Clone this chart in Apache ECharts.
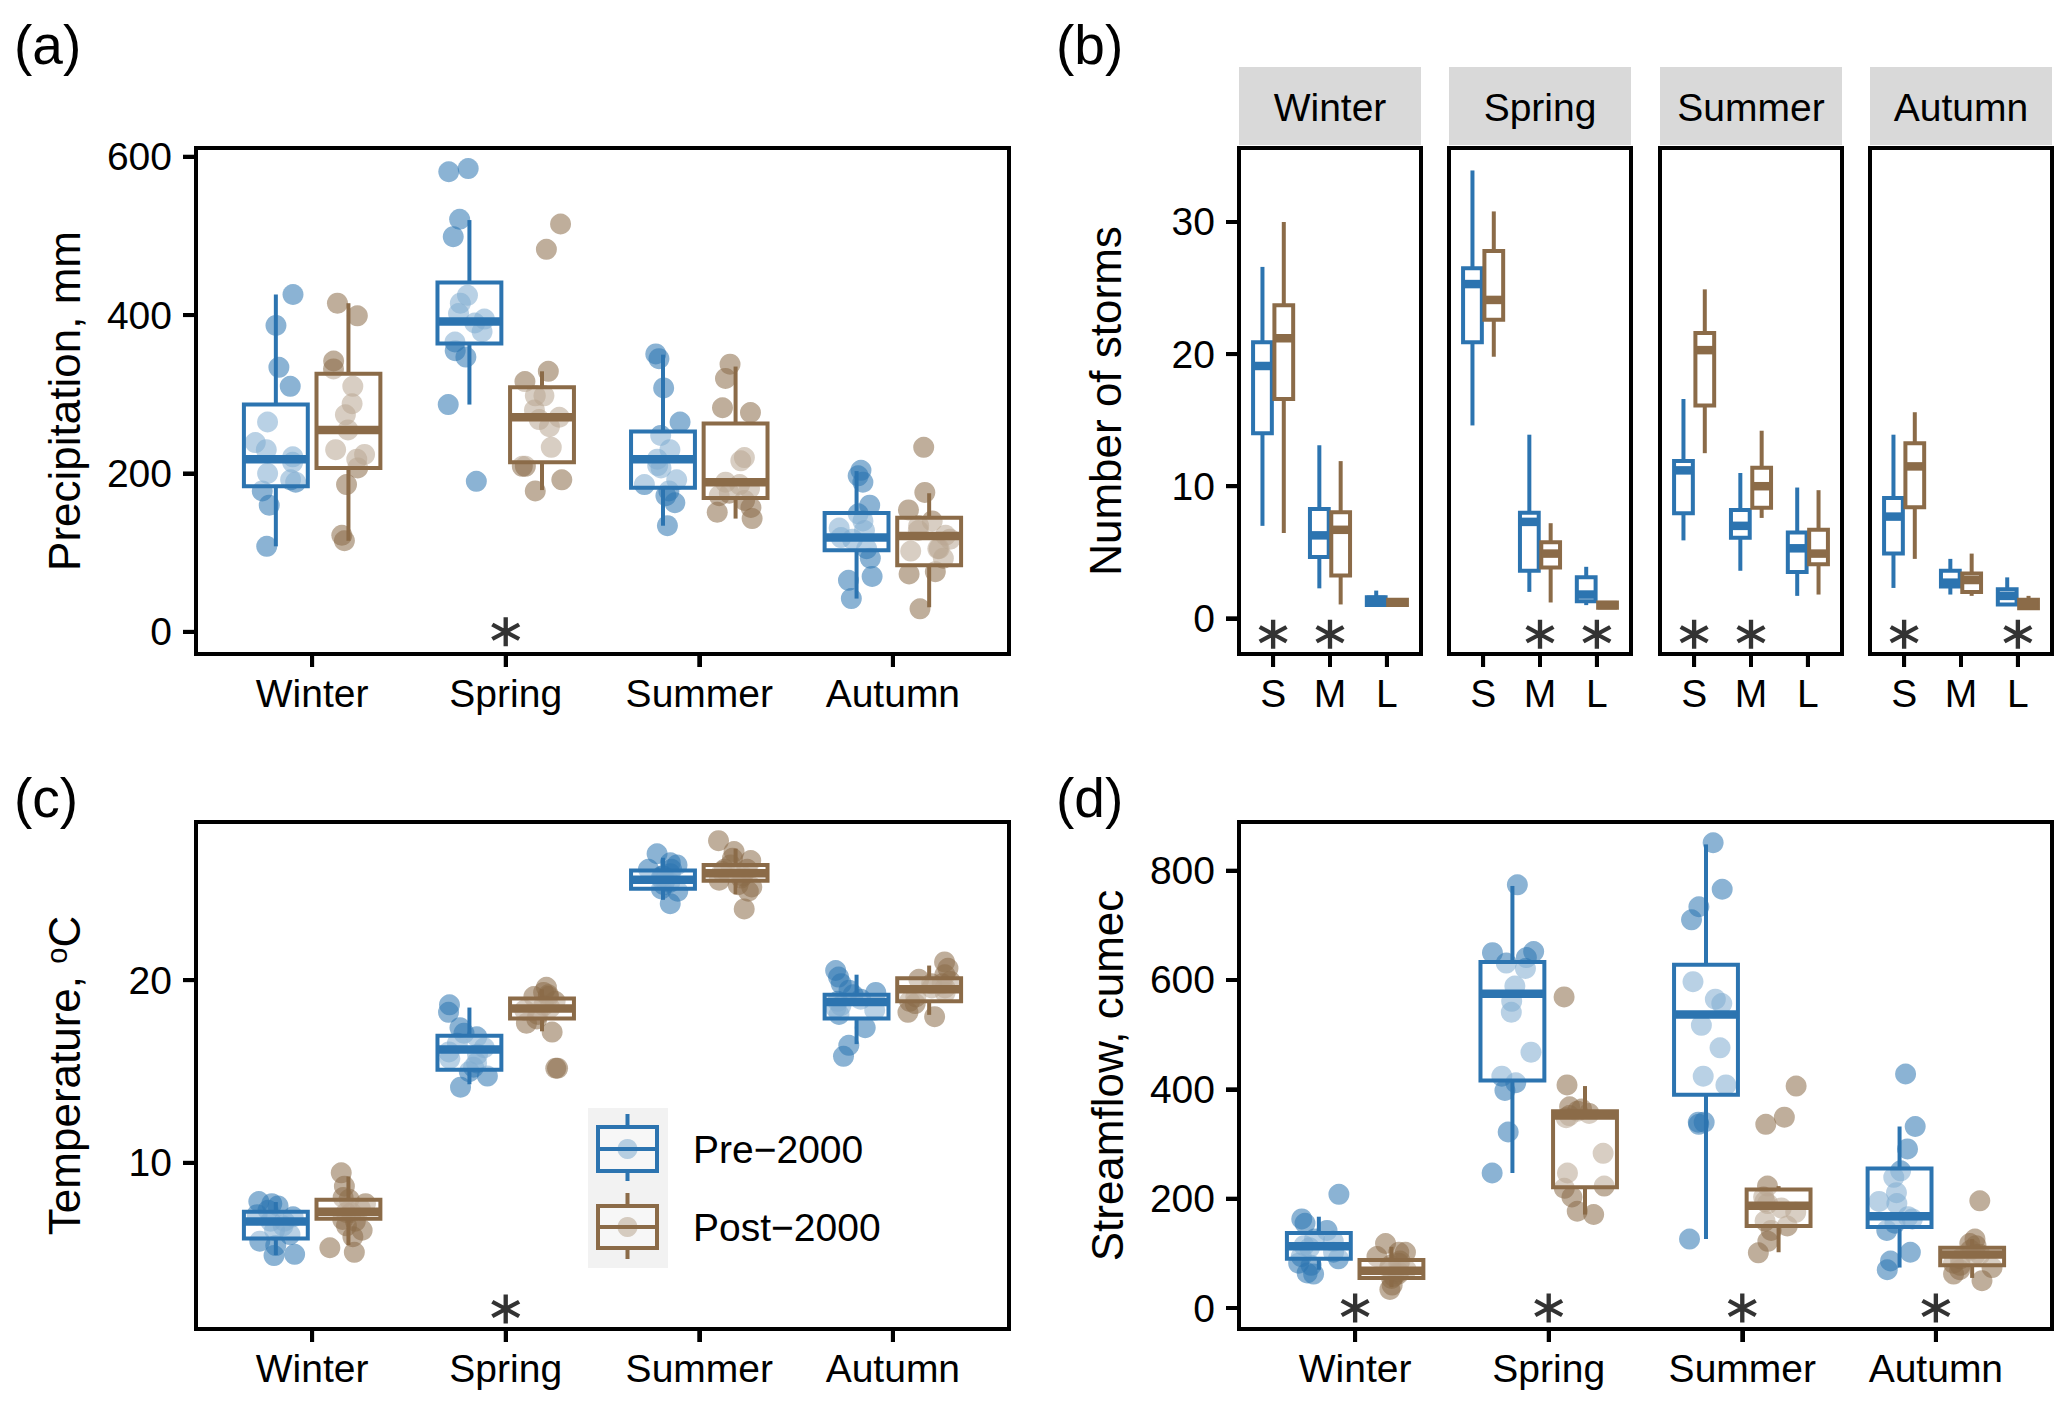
<!DOCTYPE html>
<html><head><meta charset="utf-8">
<script src="https://cdn.jsdelivr.net/npm/echarts@6/dist/echarts.min.js"></script>
<style>html,body{margin:0;padding:0;background:#fff}#c{width:2067px;height:1406px}</style>
</head><body><div id="c"></div>
<script>
// ---------------- DATA ----------------
const SEASONS = ['Winter', 'Spring', 'Summer', 'Autumn'];
const STORM_SIZES = ['S', 'M', 'L'];
const PERIODS = ['Pre−2000', 'Post−2000'];

// Box statistics: [lower whisker, Q1, median, Q3, upper whisker]
const precipBoxPre  = [[108,184,218,287,426],[287,364,392,441,520],[134,182,218,253,350],[42,103,119,150,203]];
const precipBoxPost = [[115,207,255,326,415],[179,214,271,309,329],[143,169,189,263,335],[31,84,121,144,175]];
const precipPtsPre = [
  [426,387,334,310,265,239,230,221,214,192,189,178,160,108,200],
  [585,581,521,499,425,415,402,390,379,366,355,347,287,190,395],
  [351,345,308,265,248,230,207,192,186,178,172,163,134,210,218],
  [204,197,189,160,149,131,117,128,105,93,70,65,42,119,140]
];
const precipPtsPost = [
  [415,399,342,332,310,288,274,230,224,218,207,186,122,115,255],
  [515,483,329,316,298,298,280,271,259,233,209,209,192,178,268],
  [338,320,283,277,216,220,189,181,175,172,157,151,143,186,166],
  [233,176,154,134,140,122,105,105,93,73,76,29,117,128,102]
];
const precipSig = [0, 1, 0, 0];
const precipTicks = [0, 200, 400, 600];

const stormBoxPre = {
  Winter: [[7.0,14.0,19.1,20.9,26.6],[2.27,4.64,6.28,8.27,13.1],[0.9,1.0,1.4,1.6,2.1]],
  Spring: [[14.6,20.9,25.3,26.5,33.9],[2.0,3.6,7.3,8.0,13.9],[1.0,1.3,1.8,3.1,3.9]],
  Summer: [[5.9,7.95,11.2,11.9,16.6],[3.6,6.1,7.0,8.2,11.0],[1.7,3.5,5.3,6.5,9.9]],
  Autumn: [[2.3,4.9,7.7,9.1,13.9],[1.8,2.4,2.7,3.6,4.5],[1.0,1.05,1.7,2.2,3.1]]
};
const stormBoxPost = {
  Winter: [[6.45,16.6,21.2,23.7,30.0],[1.05,3.24,6.7,8.02,11.9],[1.0,1.0,1.2,1.4,1.4]],
  Spring: [[19.8,22.6,24.1,27.8,30.8],[1.2,3.84,4.9,5.75,7.2],[0.8,0.8,1.0,1.2,1.2]],
  Summer: [[12.5,16.1,20.3,21.6,24.9],[7.6,8.37,10.0,11.4,14.2],[1.8,4.1,4.9,6.7,9.7]],
  Autumn: [[4.5,8.4,11.5,13.25,15.6],[1.7,2.0,2.9,3.4,4.9],[0.7,0.77,1.1,1.4,1.7]]
};
const stormSig = { Winter: [1,1,0], Spring: [0,1,1], Summer: [1,1,0], Autumn: [1,0,1] };
const stormTicks = [0, 10, 20, 30];

const tempBoxPre  = [[4.95,5.85,6.78,7.32,7.85],[14.3,15.1,16.2,16.95,18.5],[24.4,25.0,25.5,26.0,26.7],[16.5,17.9,18.8,19.2,20.3]];
const tempBoxPost = [[5.5,6.94,7.32,7.98,9.25],[17.2,17.9,18.45,19.0,19.5],[24.7,25.45,25.85,26.3,27.2],[18.1,18.85,19.5,20.1,20.8]];
const tempPtsPre = [
  [4.92,4.99,7.76,7.88,7.64,7.4,7.16,7.04,6.55,6.31,6.07,5.71,5.47,6.8,6.8],
  [18.65,18.24,17.4,17.1,16.9,16.55,16.3,15.95,15.47,15.23,14.99,14.75,14.14,16.07,15.7],
  [26.92,26.43,26.31,26.07,25.83,25.59,25.35,25.47,25.23,24.99,24.87,24.19,25.71,25.71,26.07],
  [20.53,20.17,19.81,19.45,19.2,18.84,18.36,18.12,18.48,17.4,16.43,15.83,19.33,18.6,18.96]
];
const tempPtsPost = [
  [9.45,8.72,8.0,7.76,7.28,6.8,6.55,6.31,5.35,5.1,7.28,7.5,5.95,8.1,6.9],
  [19.61,19.33,19.2,18.84,18.6,18.36,18.12,18.48,17.16,15.18,15.18,19.1,17.88,17.64,19.1],
  [27.64,27.04,26.67,26.31,26.07,25.95,25.71,25.59,25.23,25.47,24.87,23.9,26.55,26.07,25.1],
  [21.0,20.65,20.29,20.05,19.93,19.57,19.33,19.08,18.84,18.24,18.0,19.8,19.57,18.72,19.8]
];
const tempSig = [0, 1, 0, 0];
const tempTicks = [10, 20];

const flowBoxPre  = [[70,90,113,137,167],[247,416,575,633,772],[126,390,537,628,848],[74,148,168,255,332]];
const flowBoxPost = [[38,55,68,88,112],[171,221,352,360,406],[102,150,187,217,223],[55,78,98,110,126]];
const flowPtsPre = [
  [208,155,163,142,110,102,90,82,62,64,126,122,114,94,78],
  [774,652,631,650,641,589,561,541,468,424,398,322,247,621,412],
  [851,766,734,710,597,565,557,517,476,424,408,340,340,126,336],
  [428,332,291,251,211,195,163,167,142,102,86,70,239,191,155]
];
const flowPtsPost = [
  [118,102,102,94,82,74,62,58,42,34,70,66,78,54,86],
  [569,408,368,360,364,348,283,247,219,171,177,203,223,352,356],
  [406,349,336,223,203,195,175,159,142,122,101,191,183,150],
  [196,126,118,106,98,90,82,74,50,70,114,78,98,62]
];
const flowSig = [1, 1, 1, 1];
const flowTicks = [0, 200, 400, 600, 800];

// ---------------- STYLE / LAYOUT ----------------
const BLUE = '#2C74B0', BROWN = '#8B6B48';
const COLORS = [BLUE, BROWN];
const FONT = '"Liberation Sans", Arial, Helvetica, sans-serif';
const TICK_FS = 39, TITLE_FS = 44, TAG_FS = 55;
const DODGE = [-0.1875, 0.1875];
const BOX_W = 0.33;
const PT_SIZE = 21;
const TICK_LEN = 13;

const gridsDef = [
  { left: 196, top: 148, width: 813, height: 506 },
  { left: 1239, top: 148, width: 182, height: 506 },
  { left: 1449, top: 148, width: 182, height: 506 },
  { left: 1660, top: 148, width: 182, height: 506 },
  { left: 1870, top: 148, width: 182, height: 506 },
  { left: 196, top: 822, width: 813, height: 507 },
  { left: 1239, top: 822, width: 813, height: 507 }
];
const xRanges = [[0.4, 4.6], [0.4, 3.6], [0.4, 3.6], [0.4, 3.6], [0.4, 3.6], [0.4, 4.6], [0.4, 4.6]];
const yRanges = [[-28, 611], [-2.7, 35.6], [-2.7, 35.6], [-2.7, 35.6], [-2.7, 35.6], [0.9, 28.66], [-38.4, 889]];

const STAR_PATH = 'path://M43 0L57 0L57 100L43 100Z M89.8 18.94L96.8 31.06L10.2 81.06L3.2 68.94Z M3.2 31.06L10.2 18.94L96.8 68.94L89.8 81.06Z';

function jitter(i, seed) {
  const s = Math.sin(i * 127.1 + seed * 311.7 + 0.5) * 43758.5453;
  return ((s - Math.floor(s)) - 0.5) * 0.22;
}

const TICK_OPT = (vals, show) => ({ show, inside: false, customValues: vals, length: TICK_LEN, lineStyle: { color: '#000', width: 4 } });

function xAxisFor(gridIndex, labels) {
  const vals = labels.map((_, i) => i + 1);
  return {
    type: 'value', gridIndex, min: xRanges[gridIndex][0], max: xRanges[gridIndex][1], position: 'bottom',
    axisLine: { show: true, onZero: false, lineStyle: { color: '#000', width: 4 } },
    splitLine: { show: false },
    axisTick: TICK_OPT(vals, true),
    axisLabel: { show: true, customValues: vals, margin: 20, fontSize: TICK_FS, color: '#000', fontFamily: FONT,
      formatter: v => labels[Math.round(v) - 1] || '' }
  };
}
function yAxisFor(gridIndex, ticks, name, showLabels, nameGap) {
  return {
    type: 'value', gridIndex, min: yRanges[gridIndex][0], max: yRanges[gridIndex][1], position: 'left',
    axisLine: { show: true, onZero: false, lineStyle: { color: '#000', width: 4 } },
    splitLine: { show: false },
    axisTick: TICK_OPT(ticks, showLabels),
    axisLabel: { show: showLabels, customValues: ticks, margin: 24, fontSize: TICK_FS, color: '#000', fontFamily: FONT },
    name: name || '', nameLocation: 'middle', nameGap: nameGap || 110,
    nameTextStyle: { fontSize: TITLE_FS, color: '#000', fontFamily: FONT,
      rich: { t: { fontSize: TITLE_FS, fontFamily: FONT, color: '#000' },
              s: { fontSize: 29, fontFamily: FONT, color: '#000', verticalAlign: 'top', lineHeight: 44 } } }
  };
}

function boxRender(color) {
  return function (params, api) {
    const x = api.value(0);
    const lo = api.value(1), q1 = api.value(2), md = api.value(3), q3 = api.value(4), hi = api.value(5);
    const hw = BOX_W / 2;
    const tl = api.coord([x - hw, q3]);
    const br = api.coord([x + hw, q1]);
    const ml = api.coord([x - hw, md]);
    const mr = api.coord([x + hw, md]);
    const pHi = api.coord([x, hi]);
    const pLo = api.coord([x, lo]);
    const cx = pHi[0];
    return {
      type: 'group',
      children: [
        { type: 'line', shape: { x1: cx, y1: pHi[1], x2: cx, y2: tl[1] }, style: { stroke: color, lineWidth: 4 } },
        { type: 'line', shape: { x1: cx, y1: br[1], x2: cx, y2: pLo[1] }, style: { stroke: color, lineWidth: 4 } },
        { type: 'rect', shape: { x: tl[0], y: tl[1], width: br[0] - tl[0], height: br[1] - tl[1] },
          style: { fill: 'rgba(255,255,255,0.4)', stroke: color, lineWidth: 4 } },
        { type: 'line', shape: { x1: ml[0], y1: ml[1], x2: mr[0], y2: mr[1] }, style: { stroke: color, lineWidth: 8.5 } }
      ]
    };
  };
}

const series = [];
function addBoxes(gridIndex, stats, g) {
  series.push({
    type: 'custom', name: PERIODS[g], xAxisIndex: gridIndex, yAxisIndex: gridIndex, z: 5,
    data: stats.map((s, i) => [i + 1 + DODGE[g]].concat(s)),
    encode: { x: 0, y: [1, 2, 3, 4, 5] },
    renderItem: boxRender(COLORS[g]), silent: true
  });
}
function addPoints(gridIndex, pts, g, seed) {
  const data = [];
  pts.forEach((arr, i) => arr.forEach((v, k) => data.push([i + 1 + DODGE[g] + jitter(k, seed + i * 7 + g * 3), v])));
  series.push({
    type: 'scatter', xAxisIndex: gridIndex, yAxisIndex: gridIndex, z: 2, silent: true,
    symbolSize: PT_SIZE, data, itemStyle: { color: COLORS[g], opacity: 0.55 }
  });
}
function addStars(gridIndex, sig, level) {
  const data = [];
  sig.forEach((s, i) => { if (s) data.push([i + 1, level]); });
  series.push({
    type: 'scatter', xAxisIndex: gridIndex, yAxisIndex: gridIndex, z: 10, silent: true,
    symbol: STAR_PATH, symbolSize: 29, data, itemStyle: { color: '#000' }
  });
}

addPoints(0, precipPtsPre, 0, 1); addPoints(0, precipPtsPost, 1, 2);
addBoxes(0, precipBoxPre, 0); addBoxes(0, precipBoxPost, 1);
addStars(0, precipSig, 0);
SEASONS.forEach((s, k) => {
  addBoxes(1 + k, stormBoxPre[s], 0);
  addBoxes(1 + k, stormBoxPost[s], 1);
  addStars(1 + k, stormSig[s], -1.2);
});
addPoints(5, tempPtsPre, 0, 11); addPoints(5, tempPtsPost, 1, 12);
addBoxes(5, tempBoxPre, 0); addBoxes(5, tempBoxPost, 1);
addStars(5, tempSig, 2.0);
addPoints(6, flowPtsPre, 0, 21); addPoints(6, flowPtsPost, 1, 22);
addBoxes(6, flowBoxPre, 0); addBoxes(6, flowBoxPost, 1);
addStars(6, flowSig, 0);

const xAxes = [xAxisFor(0, SEASONS)];
const yAxes = [yAxisFor(0, precipTicks, 'Precipitation, mm', true, 110)];
for (let k = 0; k < 4; k++) {
  xAxes.push(xAxisFor(1 + k, STORM_SIZES));
  yAxes.push(yAxisFor(1 + k, stormTicks, k === 0 ? 'Number of storms' : '', k === 0, 112));
}
xAxes.push(xAxisFor(5, SEASONS));
yAxes.push(yAxisFor(5, tempTicks, '{t|Temperature, }{s|o}{t|C}', true, 110));
xAxes.push(xAxisFor(6, SEASONS));
yAxes.push(yAxisFor(6, flowTicks, 'Streamflow, cumec', true, 110));

const graphic = [];
SEASONS.forEach((s, k) => {
  const g = gridsDef[1 + k];
  graphic.push({ type: 'rect', shape: { x: g.left, y: 67, width: g.width, height: 78 }, style: { fill: '#D9D9D9' }, silent: true });
  graphic.push({ type: 'text', x: g.left + g.width / 2, y: 107, style: { text: s, font: `${TICK_FS}px ${FONT}`, fill: '#000', textAlign: 'center', textVerticalAlign: 'middle' }, silent: true });
});
[['(a)', 14, 45], ['(b)', 1056, 45], ['(c)', 14, 798], ['(d)', 1056, 798]].forEach(([t, x, y]) => {
  graphic.push({ type: 'text', x, y, style: { text: t, font: `${TAG_FS}px ${FONT}`, fill: '#000', textAlign: 'left', textVerticalAlign: 'middle' }, silent: true });
});
graphic.push({ type: 'rect', shape: { x: 588, y: 1108, width: 80, height: 160 }, style: { fill: '#F2F2F2' }, silent: true });
[[1114, 1127, 1149, 1171, 1181], [1193, 1206, 1227, 1248, 1259]].forEach((yy, g) => {
  const cx = 627.5, c = COLORS[g];
  graphic.push({ type: 'circle', shape: { cx, cy: yy[2], r: 10 }, style: { fill: c, opacity: 0.55 }, silent: true });
  graphic.push({ type: 'line', shape: { x1: cx, y1: yy[0], x2: cx, y2: yy[1] }, style: { stroke: c, lineWidth: 4 }, silent: true });
  graphic.push({ type: 'line', shape: { x1: cx, y1: yy[3], x2: cx, y2: yy[4] }, style: { stroke: c, lineWidth: 4 }, silent: true });
  graphic.push({ type: 'rect', shape: { x: 598, y: yy[1], width: 59, height: yy[3] - yy[1] }, style: { fill: 'rgba(255,255,255,0.4)', stroke: c, lineWidth: 4 }, silent: true });
  graphic.push({ type: 'line', shape: { x1: 598, y1: yy[2], x2: 657, y2: yy[2] }, style: { stroke: c, lineWidth: 4 }, silent: true });
  graphic.push({ type: 'text', x: 693, y: yy[2], style: { text: PERIODS[g], font: `${TICK_FS}px ${FONT}`, fill: '#000', textAlign: 'left', textVerticalAlign: 'middle' }, silent: true });
});

// axis tick marks also drawn as plain shapes, placed from each axis's value range
function tickPx(gi, v, dim) {
  const g = gridsDef[gi];
  if (dim === 0) return g.left + (v - xRanges[gi][0]) / (xRanges[gi][1] - xRanges[gi][0]) * g.width;
  return g.top + g.height - (v - yRanges[gi][0]) / (yRanges[gi][1] - yRanges[gi][0]) * g.height;
}
const tickSpec = [
  [0, [1, 2, 3, 4], precipTicks],
  [1, [1, 2, 3], stormTicks], [2, [1, 2, 3], []], [3, [1, 2, 3], []], [4, [1, 2, 3], []],
  [5, [1, 2, 3, 4], tempTicks],
  [6, [1, 2, 3, 4], flowTicks]
];
tickSpec.forEach(([gi, xs, ys]) => {
  const g = gridsDef[gi];
  const yBottom = g.top + g.height, xLeft = g.left;
  xs.forEach(v => {
    const px = tickPx(gi, v, 0);
    graphic.push({ type: 'rect', shape: { x: px - 2, y: yBottom - 1, width: 4, height: TICK_LEN + 1 }, style: { fill: '#000' }, silent: true });
  });
  ys.forEach(v => {
    const py = tickPx(gi, v, 1);
    graphic.push({ type: 'rect', shape: { x: xLeft - TICK_LEN, y: py - 2, width: TICK_LEN + 1, height: 4 }, style: { fill: '#000' }, silent: true });
  });
});

const chart = echarts.init(document.getElementById('c'), null, { renderer: 'svg', width: 2067, height: 1406 });
chart.setOption({
  animation: false,
  backgroundColor: '#fff',
  textStyle: { fontFamily: FONT },
  grid: gridsDef.map(g => Object.assign({ show: true, borderColor: '#000', borderWidth: 4, backgroundColor: 'transparent', containLabel: false }, g)),
  xAxis: xAxes,
  yAxis: yAxes,
  series,
  graphic: { elements: graphic }
});
</script>
</body></html>
